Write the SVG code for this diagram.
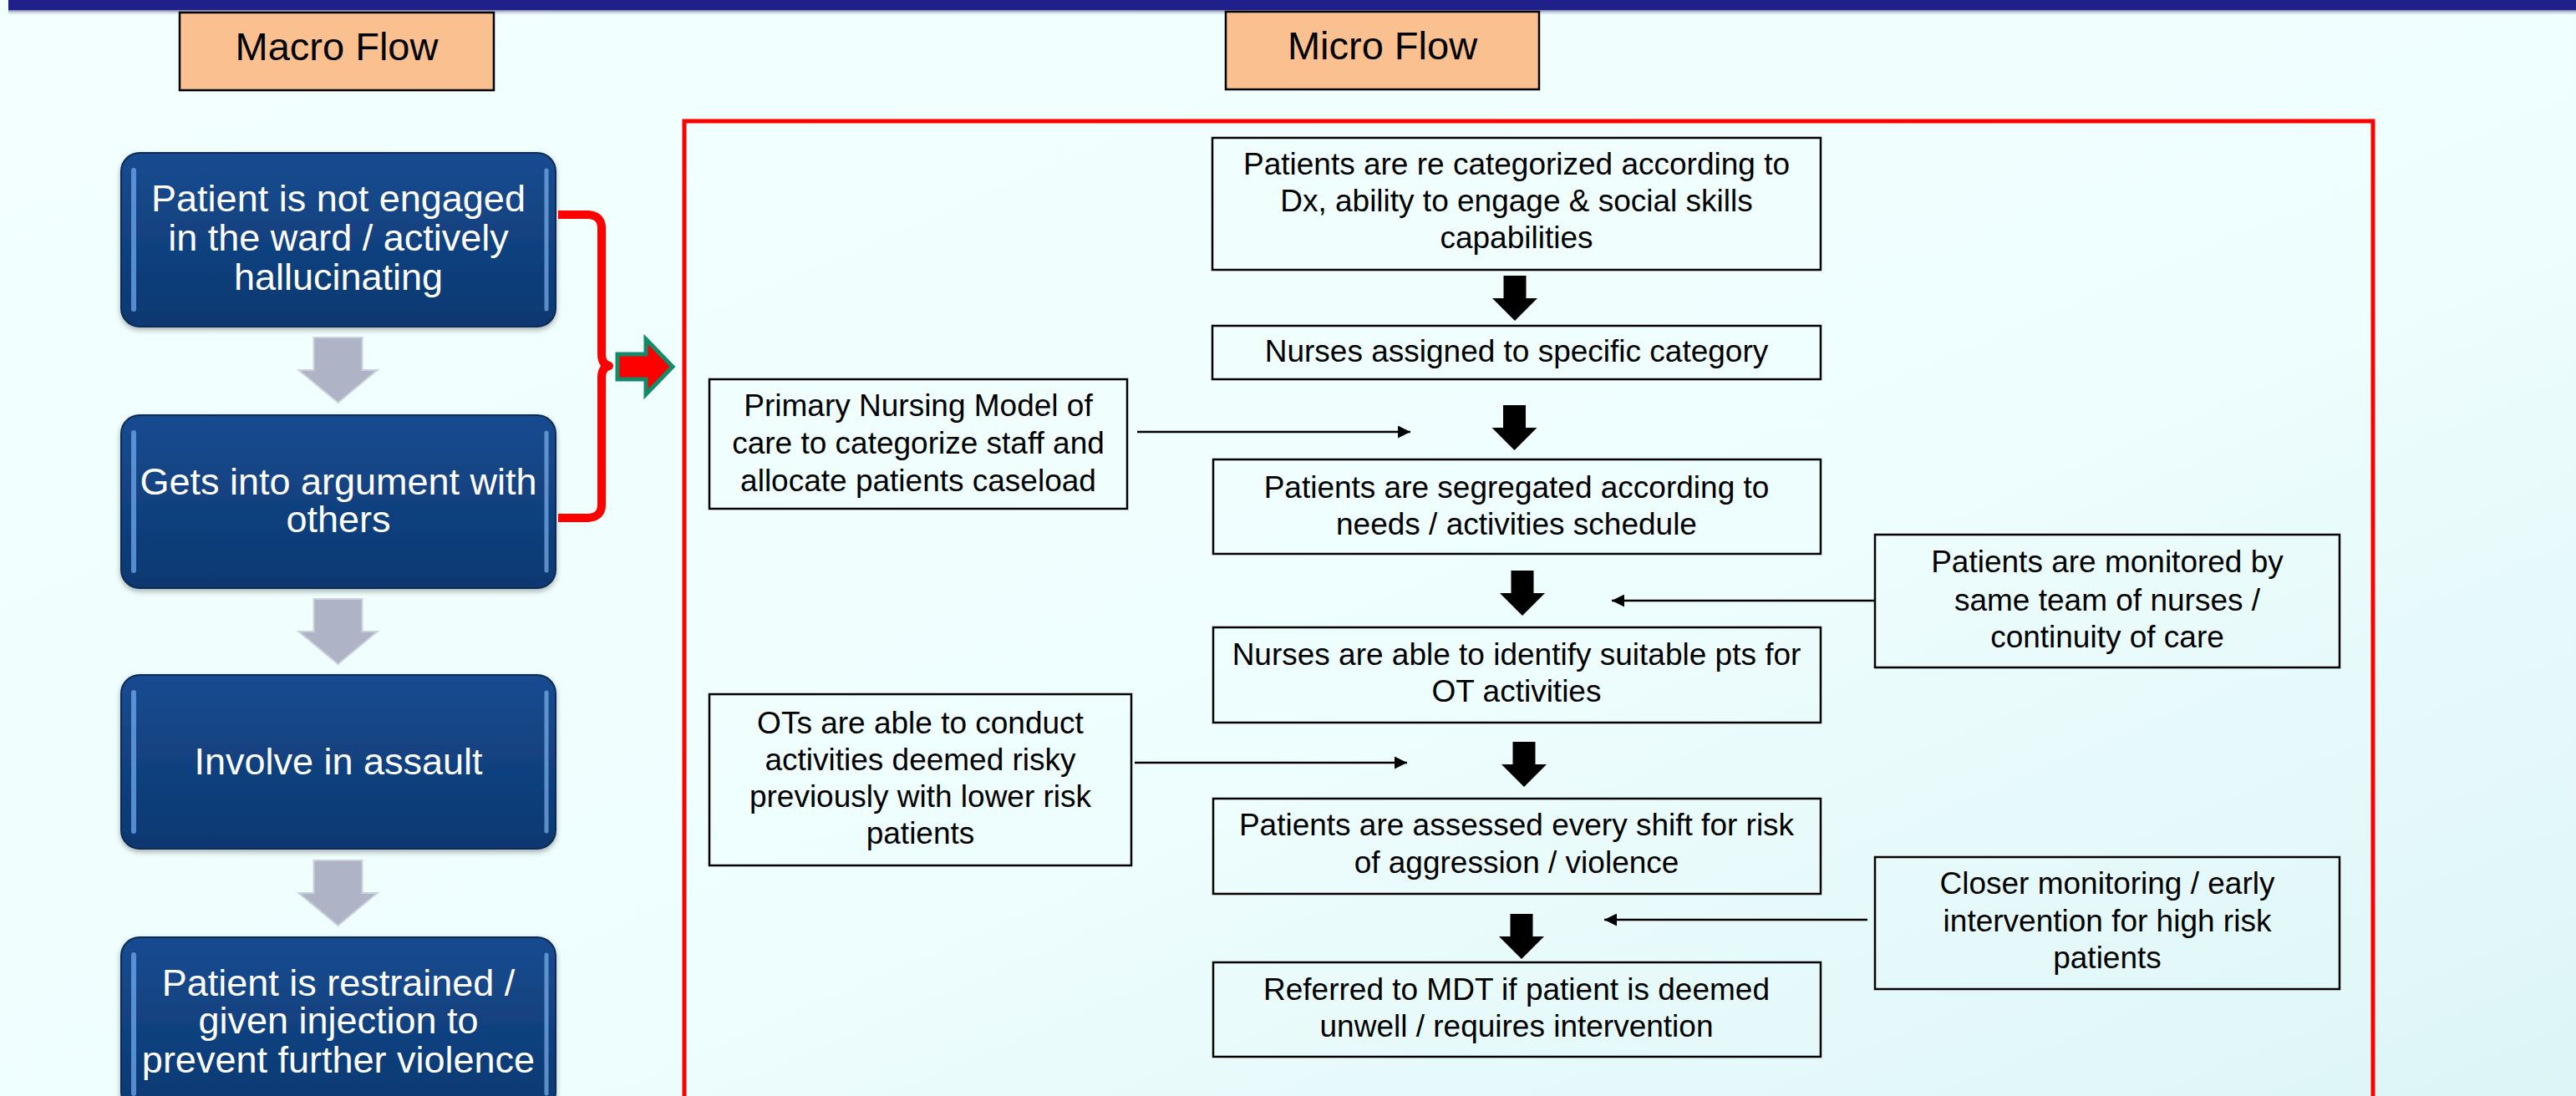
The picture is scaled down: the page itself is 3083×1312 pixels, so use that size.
<svg xmlns="http://www.w3.org/2000/svg" width="3083" height="1312" viewBox="0 0 3083 1312">
<defs>
<style>
.macro{font-family:"Liberation Sans",Arial,sans-serif;font-size:45px;fill:#ffffff;text-anchor:middle}
.micro{font-family:"Liberation Sans",Arial,sans-serif;font-size:37px;fill:#000000;text-anchor:middle}
.title{font-family:"Liberation Sans",Arial,sans-serif;font-size:47px;fill:#000000;text-anchor:middle}
.hdr{fill:#FBC08F;stroke:#000;stroke-width:2.5}
.mbox{fill:none;stroke:#000;stroke-width:2.5}
.bbox{fill:url(#blueG);stroke:#0B2B57;stroke-width:2;filter:url(#sh)}
.bevL{fill:none;stroke:#6FA8EE;stroke-opacity:0.75;stroke-width:6;stroke-linecap:round}
.bevR{fill:none;stroke:#86BAF2;stroke-opacity:0.65;stroke-width:5;stroke-linecap:round}
.thin{stroke:#000;stroke-width:2.5;fill:none}
</style>
<linearGradient id="bg" x1="0" y1="0" x2="1" y2="1">
<stop offset="0" stop-color="#F3FFFF"/>
<stop offset="0.6" stop-color="#EEFDFD"/>
<stop offset="1" stop-color="#DDF5F6"/>
</linearGradient>
<linearGradient id="blueG" x1="0" y1="0" x2="0" y2="1">
<stop offset="0" stop-color="#164B90"/>
<stop offset="1" stop-color="#0D3870"/>
</linearGradient>
<linearGradient id="barSh" x1="0" y1="0" x2="0" y2="1">
<stop offset="0" stop-color="#7C7FA8"/>
<stop offset="1" stop-color="#EEFFFF" stop-opacity="0"/>
</linearGradient>
<filter id="sh" x="-5%" y="-5%" width="110%" height="115%">
<feDropShadow dx="0" dy="3" stdDeviation="3" flood-color="#000" flood-opacity="0.3"/>
</filter>
<marker id="ah" viewBox="0 0 15 15" refX="15" refY="7.5" markerWidth="15" markerHeight="15" markerUnits="userSpaceOnUse" orient="auto">
<path d="M0,0 L15,7.5 L0,15 Z" fill="#000"/>
</marker>
<path id="blk" d="M-13.5,0 H13.5 V27 H27 L0,54 L-27,27 H-13.5 Z" fill="#000"/>
<path id="gry" d="M-29,0 H29 V39 H47 L0,78 L-47,39 H-29 Z" fill="#AEB3C6" stroke="#CDD1DE" stroke-width="2"/>
<path id="bev" d="M160,0 V166 M655,0 V166"/>
</defs>

<rect x="0" y="0" width="3083" height="1312" fill="url(#bg)"/>
<rect x="10" y="12" width="3073" height="7" fill="url(#barSh)"/>
<rect x="10" y="0" width="3073" height="12" fill="#20208A"/>

<g id="macro-header">
<rect class="hdr" x="215" y="15" width="376" height="93"/>
<text class="title" x="403" y="72">Macro Flow</text>
</g>
<g id="micro-header">
<rect class="hdr" x="1467" y="14" width="375" height="93"/>
<text class="title" x="1654.5" y="71">Micro Flow</text>
</g>

<g id="micro-frame">
<rect x="819" y="145" width="2021" height="1200" fill="none" stroke="#FF0000" stroke-width="5"/>
</g>

<g id="macro1">
<rect class="bbox" x="145" y="183" width="520" height="208" rx="22"/>
<path class="bevL" d="M160,204 V370"/>
<path class="bevR" d="M654,204 V370"/>
<text class="macro" x="405" y="253">Patient is not engaged</text>
<text class="macro" x="405" y="300">in the ward / actively</text>
<text class="macro" x="405" y="347">hallucinating</text>
</g>
<g id="macro2">
<rect class="bbox" x="145" y="497" width="520" height="207" rx="22"/>
<path class="bevL" d="M160,518 V683"/>
<path class="bevR" d="M654,518 V683"/>
<text class="macro" x="405" y="592">Gets into argument with</text>
<text class="macro" x="405" y="637">others</text>
</g>
<g id="macro3">
<rect class="bbox" x="145" y="808" width="520" height="208" rx="22"/>
<path class="bevL" d="M160,829 V995"/>
<path class="bevR" d="M654,829 V995"/>
<text class="macro" x="405" y="927">Involve in assault</text>
</g>
<g id="macro4">
<rect class="bbox" x="145" y="1122" width="520" height="208" rx="22"/>
<path class="bevL" d="M160,1143 V1309"/>
<path class="bevR" d="M654,1143 V1309"/>
<text class="macro" x="405" y="1192">Patient is restrained /</text>
<text class="macro" x="405" y="1237">given injection to</text>
<text class="macro" x="405" y="1284">prevent further violence</text>
</g>

<g id="nA">
<rect class="mbox" x="1451" y="165" width="728" height="158"/>
<text class="micro" x="1815" y="209">Patients are re categorized according to</text>
<text class="micro" x="1815" y="253">Dx, ability to engage &amp; social skills</text>
<text class="micro" x="1815" y="297">capabilities</text>
</g>
<g id="nB">
<rect class="mbox" x="1451" y="390" width="728" height="64"/>
<text class="micro" x="1815" y="433">Nurses assigned to specific category</text>
</g>
<g id="nC">
<rect class="mbox" x="849" y="454" width="500" height="155"/>
<text class="micro" x="1099" y="498">Primary Nursing Model of</text>
<text class="micro" x="1099" y="543">care to categorize staff and</text>
<text class="micro" x="1099" y="588">allocate patients caseload</text>
</g>
<g id="nD">
<rect class="mbox" x="1452" y="550" width="727" height="113"/>
<text class="micro" x="1815" y="596">Patients are segregated according to</text>
<text class="micro" x="1815" y="640">needs / activities schedule</text>
</g>
<g id="nE">
<rect class="mbox" x="2244" y="640" width="556" height="159"/>
<text class="micro" x="2522" y="685">Patients are monitored by</text>
<text class="micro" x="2522" y="731">same team of nurses /</text>
<text class="micro" x="2522" y="775">continuity of care</text>
</g>
<g id="nF">
<rect class="mbox" x="1452" y="751" width="727" height="114"/>
<text class="micro" x="1815" y="796">Nurses are able to identify suitable pts for</text>
<text class="micro" x="1815" y="840">OT activities</text>
</g>
<g id="nG">
<rect class="mbox" x="849" y="831" width="505" height="205"/>
<text class="micro" x="1101.5" y="878">OTs are able to conduct</text>
<text class="micro" x="1101.5" y="922">activities deemed risky</text>
<text class="micro" x="1101.5" y="966">previously with lower risk</text>
<text class="micro" x="1101.5" y="1010">patients</text>
</g>
<g id="nH">
<rect class="mbox" x="1452" y="956" width="727" height="114"/>
<text class="micro" x="1815" y="1000">Patients are assessed every shift for risk</text>
<text class="micro" x="1815" y="1045">of aggression / violence</text>
</g>
<g id="nI">
<rect class="mbox" x="1452" y="1152" width="727" height="113"/>
<text class="micro" x="1815" y="1197">Referred to MDT if patient is deemed</text>
<text class="micro" x="1815" y="1241">unwell / requires intervention</text>
</g>
<g id="nJ">
<rect class="mbox" x="2244" y="1026" width="556" height="158"/>
<text class="micro" x="2522" y="1070">Closer monitoring / early</text>
<text class="micro" x="2522" y="1115">intervention for high risk</text>
<text class="micro" x="2522" y="1159">patients</text>
</g>

<g id="connectors">
<use href="#gry" x="404.5" y="404"/>
<use href="#gry" x="404.5" y="717"/>
<use href="#gry" x="404.5" y="1030"/>
<path d="M668,257 L704,257 Q720,258 720,273 L720,424 Q720,436 729,438 Q720,440 720,452 L720,604 Q720,619 704,620 L668,620" fill="none" stroke="#FF0000" stroke-width="10" stroke-linejoin="round"/>
<path d="M739,424 H773 V406 L805,439 L773,472 V454 H739 Z" fill="#FF0000" stroke="#138A6A" stroke-width="5"/>
<use href="#blk" x="1813" y="330"/>
<use href="#blk" x="1812.5" y="485"/>
<use href="#blk" x="1822" y="683"/>
<use href="#blk" x="1824" y="888"/>
<use href="#blk" x="1821" y="1094"/>
<line class="thin" x1="1361" y1="517" x2="1688" y2="517" marker-end="url(#ah)"/>
<line class="thin" x1="1358" y1="913" x2="1684" y2="913" marker-end="url(#ah)"/>
<line class="thin" x1="2244" y1="719" x2="1929" y2="719" marker-end="url(#ah)"/>
<line class="thin" x1="2235" y1="1101" x2="1920" y2="1101" marker-end="url(#ah)"/>
</g>
</svg>
